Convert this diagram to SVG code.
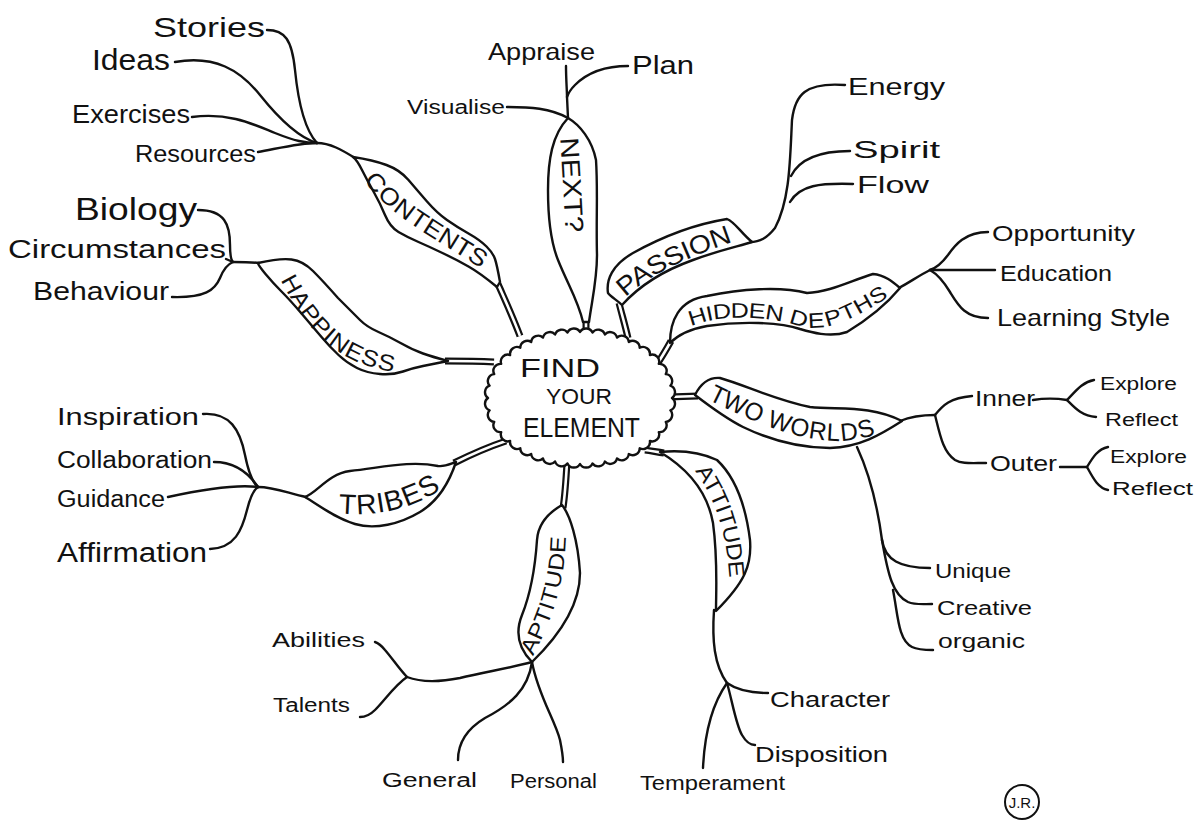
<svg xmlns="http://www.w3.org/2000/svg" width="1204" height="833" viewBox="0 0 1204 833">
<style>
.ln{fill:none;stroke:#111;stroke-width:2.4;stroke-linecap:round;stroke-linejoin:round}
.so{fill:none;stroke:#111;stroke-width:7}
.si{fill:none;stroke:#fff;stroke-width:2.6}
.rib{fill:#fff;stroke:#111;stroke-width:2.4;stroke-linejoin:round}
.t{font-family:"Liberation Sans",Arial,sans-serif;fill:#111}
.cap{font-family:"Liberation Sans",Arial,sans-serif;fill:#111;dominant-baseline:central}
</style>
<defs>
<path id="tp-contents" d="M 364,163 C 385,205 440,230 497,268"/>
<path id="tp-happiness" d="M 283,267 C 310,322 340,360 405,365"/>
<path id="tp-tribes" d="M 328,502 C 370,508 410,502 445,474"/>
<path id="tp-next" d="M 569,132 C 571,165 573,200 575,238"/>
<path id="tp-passion" d="M 612,298 C 640,268 680,250 740,230"/>
<path id="tp-hidden" d="M 680,323 C 710,306 760,306 800,318 C 830,326 860,305 893,285"/>
<path id="tp-two" d="M 705,388 C 750,410 790,430 835,432 C 855,432 868,428 880,423"/>
<path id="tp-attitude" d="M 697,460 C 720,490 735,525 738,585"/>
<path id="tp-aptitude" d="M 522,660 C 540,625 558,590 558,528"/>
</defs>
<rect width="1204" height="833" fill="#fff"/>

<g id="connectors">
  <g>
    <path class="so" d="M 498,284 C 505,300 512,315 520,336"/>
    <path class="so" d="M 445,361 C 460,361 475,361 494,362"/>
    <path class="so" d="M 454,463 C 470,455 488,447 506,441"/>
    <path class="so" d="M 586,318 L 586,336"/>
    <path class="so" d="M 619,303 C 622,315 625,325 628,338"/>
    <path class="so" d="M 671,341 C 666,350 662,357 657,364"/>
    <path class="so" d="M 668,397 L 698,396"/>
    <path class="so" d="M 645,450 C 652,451 657,452 664,453"/>
    <path class="so" d="M 567,462 C 566,480 565,495 563,508"/>
    <path class="si" d="M 498,284 C 505,300 512,315 520,336"/>
    <path class="si" d="M 445,361 C 460,361 475,361 494,362"/>
    <path class="si" d="M 454,463 C 470,455 488,447 506,441"/>
    <path class="si" d="M 586,318 L 586,336"/>
    <path class="si" d="M 619,303 C 622,315 625,325 628,338"/>
    <path class="si" d="M 671,341 C 666,350 662,357 657,364"/>
    <path class="si" d="M 668,397 L 698,396"/>
    <path class="si" d="M 645,450 C 652,451 657,452 664,453"/>
    <path class="si" d="M 567,462 C 566,480 565,495 563,508"/>
  </g>
  <path class="ln" d="M 267,30 C 285,30 292,40 295,70 C 298,100 305,130 317,143"/>
  <path class="ln" d="M 175,62 C 215,55 240,70 260,95 C 280,120 300,138 317,143"/>
  <path class="ln" d="M 192,117 C 230,112 255,125 275,133 C 295,141 305,143 317,143"/>
  <path class="ln" d="M 258,152 C 280,148 300,143 317,143"/>
  <path class="ln" d="M 317,143 C 330,143 342,150 355,158"/>
  <path class="ln" d="M 198,210 C 225,210 230,225 230,245 C 230,255 231,260 233,262"/>
  <path class="ln" d="M 226,259 L 233,262"/>
  <path class="ln" d="M 172,297 C 205,298 215,290 220,278 C 224,268 228,264 233,262"/>
  <path class="ln" d="M 233,262 C 240,262 250,262 259,263"/>
  <path class="ln" d="M 203,414 C 230,412 240,430 245,455 C 248,470 252,482 258,487"/>
  <path class="ln" d="M 214,462 C 235,462 248,472 258,487"/>
  <path class="ln" d="M 168,497 C 200,490 235,484 258,487"/>
  <path class="ln" d="M 210,549 C 235,548 242,530 247,510 C 250,498 253,490 258,487"/>
  <path class="ln" d="M 258,487 C 275,487 290,494 306,497"/>
  <path class="ln" d="M 566,66 C 566,80 567,90 567,97 L 568,118"/>
  <path class="ln" d="M 628,66 C 600,66 585,75 575,85 C 570,90 568,94 567,97"/>
  <path class="ln" d="M 507,107 C 530,107 550,108 568,118"/>
  <path class="ln" d="M 845,85 C 805,82 795,95 792,120 C 790,160 790,200 775,228 C 767,238 760,242 750,242"/>
  <path class="ln" d="M 850,151 C 820,151 800,158 791,176"/>
  <path class="ln" d="M 853,184 C 820,183 800,185 790,202"/>
  <path class="ln" d="M 988,232 C 965,232 955,245 948,255 C 942,263 936,268 930,270"/>
  <path class="ln" d="M 995,270 L 930,270"/>
  <path class="ln" d="M 988,318 C 965,318 958,305 950,292 C 944,282 937,274 930,270"/>
  <path class="ln" d="M 899,288 C 910,282 920,275 930,270"/>
  <path class="ln" d="M 900,421 C 912,416 922,415 935,415"/>
  <path class="ln" d="M 935,415 C 943,405 950,398 972,396"/>
  <path class="ln" d="M 935,415 C 940,435 943,452 955,460 C 962,464 970,463 986,463"/>
  <path class="ln" d="M 1033,400 C 1045,398 1055,398 1067,400"/>
  <path class="ln" d="M 1067,400 C 1075,392 1082,382 1094,380"/>
  <path class="ln" d="M 1067,400 C 1075,408 1082,416 1096,417"/>
  <path class="ln" d="M 1060,467 C 1070,467 1078,467 1087,467"/>
  <path class="ln" d="M 1087,467 C 1093,457 1098,449 1108,447"/>
  <path class="ln" d="M 1087,467 C 1093,478 1098,488 1108,490"/>
  <path class="ln" d="M 857,447 C 870,475 878,510 882,540"/>
  <path class="ln" d="M 882,540 C 885,560 900,568 930,568"/>
  <path class="ln" d="M 882,540 C 888,575 893,595 908,602 C 915,605 922,604 932,604"/>
  <path class="ln" d="M 893,590 C 898,615 898,640 912,647 C 918,650 925,650 933,650"/>
  <path class="ln" d="M 714,610 C 712,640 714,665 727,683"/>
  <path class="ln" d="M 727,683 C 737,690 750,693 768,693"/>
  <path class="ln" d="M 727,683 C 732,700 736,725 742,735 C 746,742 750,745 755,745"/>
  <path class="ln" d="M 727,683 C 715,700 705,725 703,768"/>
  <path class="ln" d="M 532,662 C 510,668 485,672 460,678 C 440,682 420,682 407,677"/>
  <path class="ln" d="M 407,677 C 400,670 392,658 385,650 C 381,645 378,643 375,642"/>
  <path class="ln" d="M 407,677 C 395,685 385,700 375,710 C 370,715 365,717 360,717"/>
  <path class="ln" d="M 532,662 C 528,690 510,705 485,718 C 465,730 458,745 458,760"/>
  <path class="ln" d="M 532,662 C 538,695 555,720 560,740 C 562,750 563,755 563,762"/>
</g>

<g id="contents">
  <path class="rib" d="M 353,157 Q 373,160 386.5,165 Q 400,170 408.5,180 Q 417,190 427,201.5 Q 437,213 447,220 Q 457,227 468.5,233.5 Q 480,240 486.5,246.5 Q 493,253 495,259 Q 497,265 500,282 L 497,287 Q 480,273 468.5,266.5 Q 457,260 443.5,253.5 Q 430,247 418.5,242 Q 407,237 398.5,232 Q 390,227 385,215 Q 380,203 373.5,191.5 Q 367,180 362,170 Q 357,160 353,157 Z"/>
  <text class="cap" font-size="24"><textPath href="#tp-contents" startOffset="50%" text-anchor="middle" textLength="145" lengthAdjust="spacingAndGlyphs">CONTENTS</textPath></text>
</g>
<g id="happiness">
  <path class="rib" d="M 258,263 Q 280,258 291.5,259.5 Q 303,261 313,271 Q 323,281 338,298 Q 353,313 360,320 Q 367,327 378.5,332 Q 390,337 401.5,343.5 Q 413,350 423,353.5 Q 433,357 448,361 Q 433,364 423,366 Q 413,368 403,371.5 Q 393,375 380,374 Q 367,373 357,368 Q 347,363 338.5,355 Q 330,347 321.5,337 Q 313,327 301.5,313.5 Q 290,300 281.5,291.5 Q 273,283 265.5,274 Q 258,265 258,263 Z"/>
  <text class="cap" font-size="23"><textPath href="#tp-happiness" startOffset="50%" text-anchor="middle" textLength="145" lengthAdjust="spacingAndGlyphs">HAPPINESS</textPath></text>
</g>
<g id="tribes">
  <path class="rib" d="M 305,497 C 318,492 328,474 350,471 C 380,468 410,460 438,466 C 445,467 450,464 456,462 C 450,480 440,500 420,512 C 400,524 375,530 355,524 C 335,518 320,506 305,497 Z"/>
  <text class="cap" font-size="28"><textPath href="#tp-tribes" startOffset="50%" text-anchor="middle" textLength="102" lengthAdjust="spacingAndGlyphs">TRIBES</textPath></text>
</g>
<g id="next">
  <path class="rib" d="M 568,118 C 580,125 592,140 596,160 C 598,190 596,220 597,255 C 597,280 592,300 589,322 L 583,322 C 578,300 568,285 558,260 C 550,240 548,215 548,190 C 548,160 552,135 568,118 Z"/>
  <text class="cap" font-size="26"><textPath href="#tp-next" startOffset="50%" text-anchor="middle" textLength="95" lengthAdjust="spacingAndGlyphs">NEXT?</textPath></text>
</g>
<g id="passion">
  <path class="rib" d="M 608,293 C 606,280 612,265 633,253 C 660,238 690,225 727,219 C 735,222 740,232 752,242 C 740,246 720,250 693,260 C 665,270 640,285 622,305 C 617,300 611,297 608,293 Z"/>
  <text class="cap" font-size="26"><textPath href="#tp-passion" startOffset="50%" text-anchor="middle" textLength="125" lengthAdjust="spacingAndGlyphs">PASSION</textPath></text>
</g>
<g id="hidden-depths">
  <path class="rib" d="M 670,343 C 670,322 678,300 707,296 C 740,289 780,286 807,293 C 830,292 850,281 873,274 C 885,275 893,282 900,288 C 890,300 875,315 847,332 C 830,338 810,332 800,329 C 780,322 740,321 707,326 C 690,329 678,335 670,343 Z"/>
  <text class="cap" font-size="21"><textPath href="#tp-hidden" startOffset="50%" text-anchor="middle" textLength="205" lengthAdjust="spacingAndGlyphs">HIDDEN DEPTHS</textPath></text>
</g>
<g id="two-worlds">
  <path class="rib" d="M 695,395 C 700,385 707,377 720,378 C 745,385 775,400 810,407 C 840,410 870,405 902,421 C 880,435 860,447 830,448 C 800,448 770,440 743,427 C 725,418 708,405 695,395 Z"/>
  <text class="cap" font-size="25"><textPath href="#tp-two" startOffset="50%" text-anchor="middle" textLength="170" lengthAdjust="spacingAndGlyphs">TWO WORLDS</textPath></text>
</g>
<g id="attitude">
  <path class="rib" d="M 660,452 C 680,450 700,452 717,460 C 733,475 745,500 750,540 C 752,565 745,582 716,611 C 716,590 718,560 713,523 C 708,495 690,470 660,452 Z"/>
  <text class="cap" font-size="22"><textPath href="#tp-attitude" startOffset="50%" text-anchor="middle" textLength="118" lengthAdjust="spacingAndGlyphs">ATTITUDE</textPath></text>
</g>
<g id="aptitude">
  <path class="rib" d="M 562,505 C 570,515 578,540 580,573 C 580,600 565,630 532,662 C 520,650 514,635 522,615 C 530,595 535,570 537,540 C 538,525 548,513 562,505 Z"/>
  <text class="cap" font-size="22"><textPath href="#tp-aptitude" startOffset="50%" text-anchor="middle" textLength="122" lengthAdjust="spacingAndGlyphs">APTITUDE</textPath></text>
</g>

<g id="center">
  <path class="rib" d="M 672,398 A 7 7 0 0 1 670.4,410.3 A 7 7 0 0 1 665.8,421.9 A 7 7 0 0 1 658.8,432.1 A 7 7 0 0 1 649.9,441 A 7 7 0 0 1 639.7,448.2 A 7 7 0 0 1 628.8,454 A 7 7 0 0 1 617,458.4 A 7 7 0 0 1 604.9,461.5 A 7 7 0 0 1 592.5,463.4 A 7 7 0 0 1 580,464 A 7 7 0 0 1 567.5,463.4 A 7 7 0 0 1 555.1,461.5 A 7 7 0 0 1 543,458.4 A 7 7 0 0 1 531.2,454 A 7 7 0 0 1 520.3,448.2 A 7 7 0 0 1 510.1,441 A 7 7 0 0 1 501.2,432.1 A 7 7 0 0 1 494.2,421.9 A 7 7 0 0 1 489.6,410.3 A 7 7 0 0 1 488,398 A 7 7 0 0 1 489.6,385.7 A 7 7 0 0 1 494.2,374.1 A 7 7 0 0 1 501.2,363.9 A 7 7 0 0 1 510.1,355 A 7 7 0 0 1 520.3,347.8 A 7 7 0 0 1 531.2,342 A 7 7 0 0 1 543,337.6 A 7 7 0 0 1 555.1,334.5 A 7 7 0 0 1 567.5,332.6 A 7 7 0 0 1 580,332 A 7 7 0 0 1 592.5,332.6 A 7 7 0 0 1 604.9,334.5 A 7 7 0 0 1 617,337.6 A 7 7 0 0 1 628.8,342 A 7 7 0 0 1 639.7,347.8 A 7 7 0 0 1 649.9,355 A 7 7 0 0 1 658.8,363.9 A 7 7 0 0 1 665.8,374.1 A 7 7 0 0 1 670.4,385.7 A 7 7 0 0 1 672,398 Z"/>
  <text class="t" x="520" y="377" font-size="26" textLength="80" lengthAdjust="spacingAndGlyphs">FIND</text>
  <text class="t" x="546" y="404" font-size="22" textLength="66" lengthAdjust="spacingAndGlyphs">YOUR</text>
  <text class="t" x="523" y="437" font-size="27" textLength="117" lengthAdjust="spacingAndGlyphs">ELEMENT</text>
</g>

<g id="leaf-stories"><text class="t" x="153" y="37" font-size="28" textLength="112" lengthAdjust="spacingAndGlyphs">Stories</text></g>
<g id="leaf-ideas"><text class="t" x="92" y="70" font-size="30" textLength="78" lengthAdjust="spacingAndGlyphs">Ideas</text></g>
<g id="leaf-exercises"><text class="t" x="72" y="123" font-size="26" textLength="118" lengthAdjust="spacingAndGlyphs">Exercises</text></g>
<g id="leaf-resources"><text class="t" x="135" y="162" font-size="24" textLength="121" lengthAdjust="spacingAndGlyphs">Resources</text></g>
<g id="leaf-biology"><text class="t" x="75" y="220" font-size="32" textLength="122" lengthAdjust="spacingAndGlyphs">Biology</text></g>
<g id="leaf-circumstances"><text class="t" x="8" y="258" font-size="26" textLength="218" lengthAdjust="spacingAndGlyphs">Circumstances</text></g>
<g id="leaf-behaviour"><text class="t" x="33" y="300" font-size="26" textLength="136" lengthAdjust="spacingAndGlyphs">Behaviour</text></g>
<g id="leaf-inspiration"><text class="t" x="57" y="425" font-size="23" textLength="142" lengthAdjust="spacingAndGlyphs">Inspiration</text></g>
<g id="leaf-collaboration"><text class="t" x="57" y="468" font-size="23" textLength="155" lengthAdjust="spacingAndGlyphs">Collaboration</text></g>
<g id="leaf-guidance"><text class="t" x="57" y="507" font-size="23" textLength="108" lengthAdjust="spacingAndGlyphs">Guidance</text></g>
<g id="leaf-affirmation"><text class="t" x="57" y="562" font-size="27" textLength="150" lengthAdjust="spacingAndGlyphs">Affirmation</text></g>
<g id="leaf-appraise"><text class="t" x="488" y="60" font-size="24" textLength="107" lengthAdjust="spacingAndGlyphs">Appraise</text></g>
<g id="leaf-plan"><text class="t" x="632" y="74" font-size="26" textLength="62" lengthAdjust="spacingAndGlyphs">Plan</text></g>
<g id="leaf-visualise"><text class="t" x="407" y="114" font-size="20" textLength="98" lengthAdjust="spacingAndGlyphs">Visualise</text></g>
<g id="leaf-energy"><text class="t" x="848" y="95" font-size="24" textLength="97" lengthAdjust="spacingAndGlyphs">Energy</text></g>
<g id="leaf-spirit"><text class="t" x="853" y="158" font-size="24" textLength="87" lengthAdjust="spacingAndGlyphs">Spirit</text></g>
<g id="leaf-flow"><text class="t" x="857" y="193" font-size="24" textLength="72" lengthAdjust="spacingAndGlyphs">Flow</text></g>
<g id="leaf-opportunity"><text class="t" x="992" y="241" font-size="22" textLength="143" lengthAdjust="spacingAndGlyphs">Opportunity</text></g>
<g id="leaf-education"><text class="t" x="1000" y="281" font-size="22" textLength="112" lengthAdjust="spacingAndGlyphs">Education</text></g>
<g id="leaf-learning-style"><text class="t" x="997" y="326" font-size="24" textLength="173" lengthAdjust="spacingAndGlyphs">Learning Style</text></g>
<g id="leaf-inner"><text class="t" x="975" y="406" font-size="22" textLength="60" lengthAdjust="spacingAndGlyphs">Inner</text></g>
<g id="leaf-inner-explore"><text class="t" x="1100" y="390" font-size="18" textLength="77" lengthAdjust="spacingAndGlyphs">Explore</text></g>
<g id="leaf-inner-reflect"><text class="t" x="1105" y="426" font-size="18" textLength="73" lengthAdjust="spacingAndGlyphs">Reflect</text></g>
<g id="leaf-outer"><text class="t" x="990" y="471" font-size="22" textLength="67" lengthAdjust="spacingAndGlyphs">Outer</text></g>
<g id="leaf-outer-explore"><text class="t" x="1110" y="463" font-size="18" textLength="77" lengthAdjust="spacingAndGlyphs">Explore</text></g>
<g id="leaf-outer-reflect"><text class="t" x="1112" y="495" font-size="18" textLength="81" lengthAdjust="spacingAndGlyphs">Reflect</text></g>
<g id="leaf-unique"><text class="t" x="935" y="578" font-size="20" textLength="76" lengthAdjust="spacingAndGlyphs">Unique</text></g>
<g id="leaf-creative"><text class="t" x="937" y="615" font-size="20" textLength="95" lengthAdjust="spacingAndGlyphs">Creative</text></g>
<g id="leaf-organic"><text class="t" x="938" y="648" font-size="20" textLength="87" lengthAdjust="spacingAndGlyphs">organic</text></g>
<g id="leaf-abilities"><text class="t" x="272" y="647" font-size="20" textLength="93" lengthAdjust="spacingAndGlyphs">Abilities</text></g>
<g id="leaf-talents"><text class="t" x="273" y="712" font-size="20" textLength="77" lengthAdjust="spacingAndGlyphs">Talents</text></g>
<g id="leaf-general"><text class="t" x="382" y="787" font-size="20" textLength="95" lengthAdjust="spacingAndGlyphs">General</text></g>
<g id="leaf-personal"><text class="t" x="510" y="788" font-size="20" textLength="87" lengthAdjust="spacingAndGlyphs">Personal</text></g>
<g id="leaf-temperament"><text class="t" x="640" y="790" font-size="20" textLength="145" lengthAdjust="spacingAndGlyphs">Temperament</text></g>
<g id="leaf-character"><text class="t" x="770" y="707" font-size="22" textLength="120" lengthAdjust="spacingAndGlyphs">Character</text></g>
<g id="leaf-disposition"><text class="t" x="755" y="762" font-size="22" textLength="133" lengthAdjust="spacingAndGlyphs">Disposition</text></g>

<g id="signature">
  <circle cx="1022" cy="802" r="17" fill="none" stroke="#111" stroke-width="2"/>
  <text class="t" x="1022" y="808" font-size="15" text-anchor="middle">J.R.</text>
</g>
</svg>
